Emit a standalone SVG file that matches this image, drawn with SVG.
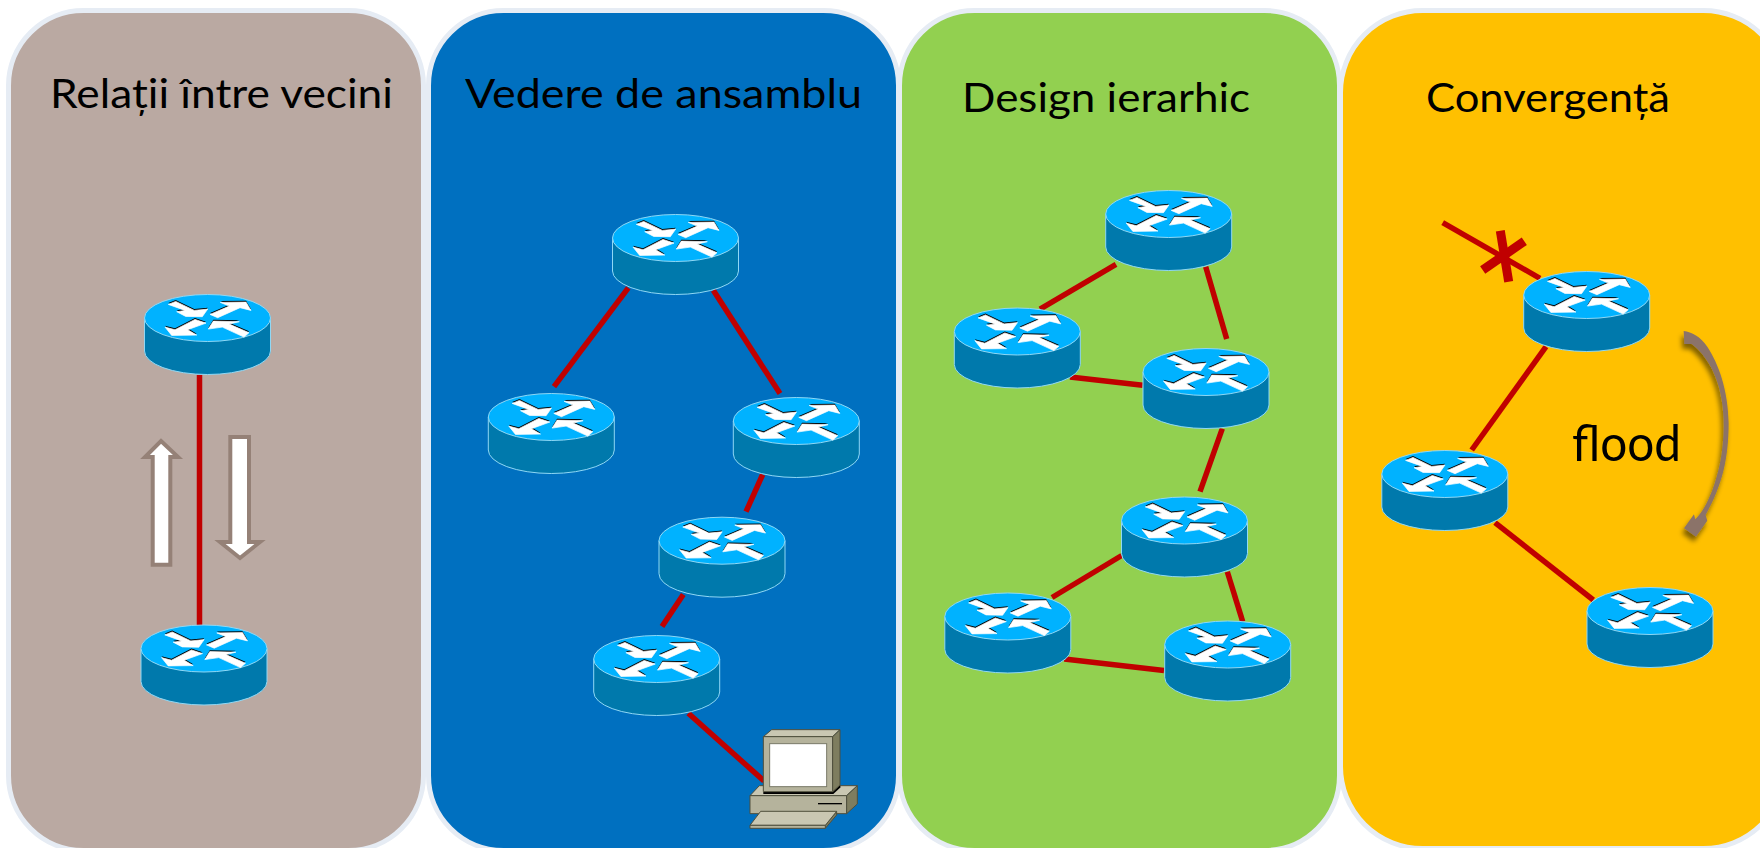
<svg xmlns="http://www.w3.org/2000/svg" width="1760" height="848" viewBox="0 0 1760 848">
<style>
text{font-family:"Lato","Noto Sans","Liberation Sans",sans-serif;font-size:41px;fill:#000}
.panel{stroke:#E6ECF4;stroke-width:5}
.wire{stroke:#C00000;stroke-width:5.5;fill:none}
.cross{stroke:#C00000;stroke-width:9;fill:none}
.flow{fill:#fff;stroke:#958177;stroke-width:4}
.pcl{fill:#C9C7B2;stroke:#4F4F3C;stroke-width:3;stroke-linejoin:round}
.pcm{fill:#B5B39C;stroke:#4F4F3C;stroke-width:3;stroke-linejoin:round}
.pcd{fill:#7E7D5F;stroke:#4F4F3C;stroke-width:3;stroke-linejoin:round}
</style>
<defs>
<filter id="sh" x="-80%" y="-20%" width="260%" height="140%"><feGaussianBlur in="SourceAlpha" stdDeviation="8"/><feOffset dx="-6" dy="15"/><feComponentTransfer><feFuncA type="linear" slope="0.5"/></feComponentTransfer><feMerge><feMergeNode/><feMergeNode in="SourceGraphic"/></feMerge></filter>
<g id="arrows">
<polygon points="-39.2,-14 -31.8,-17 -13.2,-8 .2,-9.3 -5.2,-1.7 -21.8,-2 -30.8,-6.7 -22.5,-8"/>
<polygon points="2.5,-4 21.8,-12.3 12.8,-16 38.5,-16.3 43.5,-8 32.5,-10.7 10.2,-.7"/>
<polygon points="-12.5,1 -1.5,4.7 -19.8,11.3 -10.8,16.7 -35.8,17 -42.5,8.7 -32.5,11.3"/>
<polygon points=".8,10.7 5.8,2.7 31.8,3.3 21.8,5.7 41.5,14.3 36.5,18.7 14.8,8.7"/>
</g>
<g id="router">
<path d="M-63 0V33A63 23.5 0 0 0 63 33V0Z" fill="#0079AC" stroke="#8FD8F5" stroke-width="1"/>
<ellipse rx="63" ry="23.5" fill="#00B2FF" stroke="#8FD8F5" stroke-width="1"/>
<use href="#arrows" y="-1" fill="#000"/>
<use href="#arrows" y=".4" fill="#fff" stroke="#fff" stroke-width=".7"/>
</g>
</defs>
<rect width="1760" height="848" fill="#fff"/>
<g id="panels">
<rect class="panel" x="8.5" y="10.5" width="415" height="840" rx="75" fill="#BAA9A2"/>
<rect class="panel" x="428.5" y="10.5" width="470" height="840" rx="75" fill="#0070C0"/>
<rect class="panel" x="899.5" y="10.5" width="440" height="840" rx="75" fill="#92D050"/>
<rect class="panel" x="1340.5" y="10.5" width="445" height="838" rx="82" fill="#FFC000"/>
</g>
<g id="titles">
<text x="50" y="108" textLength="343" lengthAdjust="spacingAndGlyphs">Relații între vecini</text>
<text x="465" y="108" textLength="397" lengthAdjust="spacingAndGlyphs">Vedere de ansamblu</text>
<text x="962" y="112" textLength="288" lengthAdjust="spacingAndGlyphs">Design ierarhic</text>
<text x="1426" y="112" textLength="244" lengthAdjust="spacingAndGlyphs">Convergență</text>
<text x="1572" y="461" textLength="109" lengthAdjust="spacingAndGlyphs" style="font-size:51px">flood</text>
</g>
<g id="connectors">
<path class="wire" d="M199.5 375V626"/>
<path class="wire" d="M628.3 287.8L554 386.7"/>
<path class="wire" d="M713.3 290.3L780 393.6"/>
<path class="wire" d="M762.7 474.5L746 511.7"/>
<path class="wire" d="M683.3 594.4L662 626.5"/>
<path class="wire" d="M688.3 713.3L764 781"/>
<path class="wire" d="M1116 264.4L1040 309.2"/>
<path class="wire" d="M1205.7 266.8L1226.7 339"/>
<path class="wire" d="M1070 377L1142.7 385.3"/>
<path class="wire" d="M1222.3 428.7L1200 491.7"/>
<path class="wire" d="M1121.7 555.5L1052 597.5"/>
<path class="wire" d="M1227.3 571.7L1242.7 621.6"/>
<path class="wire" d="M1064.3 659L1164 670.5"/>
<path class="wire" d="M1442.7 222.7L1540 278.3"/>
<path class="wire" d="M1546 346.7L1471.7 450"/>
<path class="wire" d="M1495 522.7L1593.3 600"/>
</g>
<g id="link-failure">
<path class="cross" d="M1500.3 230.7L1508.7 281.7"/>
<path class="cross" d="M1482.7 270L1524.3 241.3"/>
</g>
<g id="flow-up"><polygon class="flow" points="161,441 178,457 170.3,457 170.3,564.7 152.7,564.7 152.7,457 145,457"/></g>
<g id="flow-down"><polygon class="flow" points="230.3,437 249,437 249,542 260,542 240,558 220,542 230.3,542"/></g>
<g id="flood-arrow" transform="translate(1420 200) scale(.3333)" filter="url(#sh)">
<path fill="#8B7369" d="M791 393C815 396 842 410 862 440C895 490 925 570 926 670C926 780 905 860 857 945L862 962L828 1010L792 985L822 943L826 958C860 925 885 860 900 790C912 730 915 660 905 600C895 530 860 465 815 432L793 432Z"/>
</g>
<g id="r1"><use href="#router" x="207.5" y="318"/></g>
<g id="r2"><use href="#router" x="204" y="648.5"/></g>
<g id="r3"><use href="#router" x="675.5" y="238"/></g>
<g id="r4"><use href="#router" x="551.3" y="417"/></g>
<g id="r5"><use href="#router" x="796.3" y="421"/></g>
<g id="r6"><use href="#router" x="722" y="540.7"/></g>
<g id="r7"><use href="#router" x="656.7" y="659"/></g>
<g id="r8"><use href="#router" x="1168.7" y="214"/></g>
<g id="r9"><use href="#router" x="1017.3" y="331.5"/></g>
<g id="r10"><use href="#router" x="1206" y="372"/></g>
<g id="r11"><use href="#router" x="1184.5" y="520.5"/></g>
<g id="r12"><use href="#router" x="1007.8" y="616.5"/></g>
<g id="r13"><use href="#router" x="1227.7" y="644.5"/></g>
<g id="r14"><use href="#router" x="1586.7" y="295"/></g>
<g id="r15"><use href="#router" x="1444.8" y="474"/></g>
<g id="r16"><use href="#router" x="1650" y="611"/></g>
<g id="pc" transform="translate(720 700) scale(.3333)">
<polygon class="pcl" points="90,287 118,257 412,257 380,287"/>
<polygon class="pcm" points="90,287 380,287 380,341 90,341"/>
<polygon class="pcd" points="380,287 412,257 412,312 380,341"/>
<polygon points="130,275 338,275 360,255 362,262 340,282 130,282" fill="#000"/>
<polygon class="pcl" points="130,110 155,89 360,89 338,110"/>
<polygon class="pcm" points="130,110 338,110 338,275 130,275"/>
<polygon class="pcd" points="338,110 360,89 360,255 338,275"/>
<rect x="149" y="131" width="171" height="129" fill="#fff" stroke="#7A7A68" stroke-width="3"/>
<path d="M294 311H366" stroke="#000" stroke-width="4"/>
<polygon class="pcd" points="316,376 350,334 350,345 316,385"/>
<polygon class="pcl" points="90,376 122,334 350,334 316,376"/>
<polygon class="pcm" points="90,376 316,376 316,385 90,385"/>
</g>
</svg>
